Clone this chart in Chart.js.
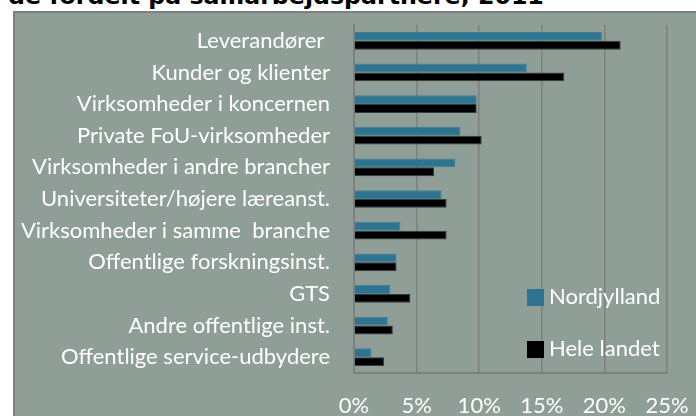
<!DOCTYPE html>
<html>
<head>
<meta charset="utf-8">
<script src="https://cdn.jsdelivr.net/npm/chart.js@4.4.1/dist/chart.umd.min.js"></script>
<style>
  html, body { margin: 0; padding: 0; background: #fff; overflow: hidden; }
  body { width: 696px; height: 416px; position: relative; }
  #title {
    position: absolute; left: 8px; top: -15px; margin: 0;
    font: bold 23.7px "DejaVu Sans", sans-serif; line-height: 23.7px;
    color: #000; white-space: nowrap;
  }
  #frame {
    position: absolute; left: 13px; top: 11px; width: 683px; height: 405px;
    border-left: 2px solid #7f7f7f; border-top: 2px solid #7f7f7f;
    background: #8f9e96;
  }
  #chart { display: block; }
</style>
</head>
<body>
<div id="title">de fordelt på samarbejdspartnere, 2011</div>
<div id="frame"><canvas id="chart" width="681" height="403"></canvas></div>
<script>
// kategorier og værdier (procent)
const categories = [
  'Leverandører ',
  'Kunder og klienter',
  'Virksomheder i koncernen',
  'Private FoU-virksomheder',
  'Virksomheder i andre brancher',
  'Universiteter/højere læreanst.',
  'Virksomheder i samme  branche',
  'Offentlige forskningsinst.',
  'GTS',
  'Andre offentlige inst.',
  'Offentlige service-udbydere'
];
const nordjylland = [19.8, 13.8, 9.8, 8.5, 8.1, 7.0, 3.7, 3.4, 2.9, 2.7, 1.4];
const heleLandet = [21.3, 16.8, 9.8, 10.2, 6.4, 7.4, 7.4, 3.4, 4.5, 3.1, 2.4];
const xTicks = [0, 5, 10, 15, 20, 25];

const labelFont = { family: 'Lato, sans-serif', size: 22 };

// legend tegnet inde i plotområdet, nederst til højre
const insideLegend = {
  id: 'insideLegend',
  afterDraw(chart) {
    const ctx = chart.ctx, a = chart.chartArea;
    ctx.save();
    ctx.font = '22px Lato, sans-serif';
    ctx.textBaseline = 'middle';
    chart.data.datasets.forEach((ds, i) => {
      const y = a.bottom - 76 + i * 52;
      ctx.fillStyle = ds.backgroundColor;
      ctx.fillRect(a.right - 140, y - 8, 17, 17);
      ctx.fillStyle = '#fff';
      ctx.fillText(ds.label, a.right - 118, y);
    });
    ctx.restore();
  }
};

const noPad = s => { s.paddingTop = 0; s.paddingBottom = 0; s.paddingLeft = 0; s.paddingRight = 0; };

new Chart(document.getElementById('chart'), {
  type: 'bar',
  data: {
    labels: categories,
    datasets: [
      { label: 'Nordjylland', data: nordjylland, backgroundColor: '#2e7490', borderColor: '#3f8199', borderWidth: 1 },
      { label: 'Hele landet', data: heleLandet, backgroundColor: '#000000', borderColor: '#3a3a3a', borderWidth: 1 }
    ]
  },
  options: {
    indexAxis: 'y',
    responsive: false,
    animation: false,
    categoryPercentage: 0.56,
    barPercentage: 1,
    layout: { padding: { top: 12, right: 29, left: 0, bottom: 0 } },
    scales: {
      x: {
        min: 0, max: 25,
        afterBuildTicks: s => { s.ticks = xTicks.map(v => ({ value: v })); },
        afterFit: s => { s.height = 43; noPad(s); },
        grid: { color: '#7f7f7f', lineWidth: 1.5, drawTicks: false },
        border: { color: '#7f7f7f', width: 2 },
        ticks: { color: '#fff', font: labelFont, padding: 20, callback: v => v + '%' }
      },
      y: {
        afterFit: s => { s.width = 339; noPad(s); },
        grid: { display: false, drawTicks: false },
        border: { color: '#7f7f7f', width: 2 },
        ticks: { color: '#fff', font: labelFont, padding: 24, autoSkip: false }
      }
    },
    plugins: { legend: { display: false }, tooltip: { enabled: false } }
  },
  plugins: [insideLegend]
});
</script>
</body>
</html>
